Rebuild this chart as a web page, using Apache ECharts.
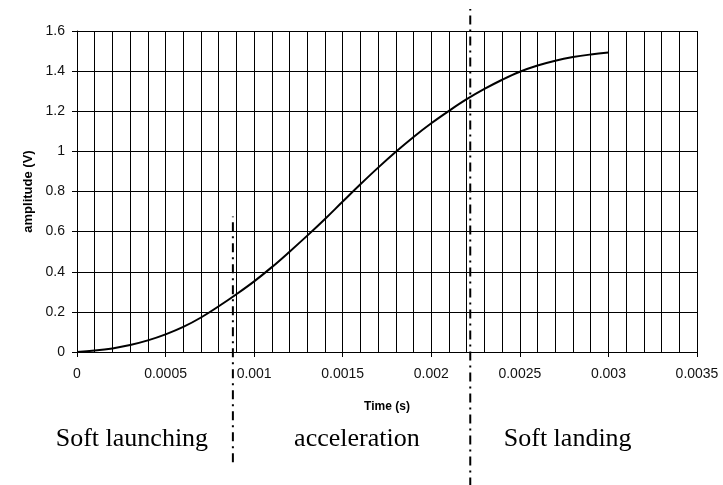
<!DOCTYPE html>
<html>
<head>
<meta charset="utf-8">
<script src="https://cdn.jsdelivr.net/npm/echarts@6/dist/echarts.min.js"></script>
<style>
html,body{margin:0;padding:0;background:#fff;}
#c{width:723px;height:485px;}
</style>
</head>
<body>
<div id="c"></div>
<script>
// Time (s) sample points
var times = [0, 0.0001, 0.0002, 0.0003, 0.0004, 0.0005, 0.0006, 0.0007, 0.0008, 0.0009,
  0.001, 0.0011, 0.0012, 0.0013, 0.0014, 0.0015, 0.0016, 0.0017, 0.0018, 0.0019,
  0.002, 0.0021, 0.0022, 0.0023, 0.0024, 0.0025, 0.0026, 0.0027, 0.0028, 0.0029, 0.003];
// amplitude (V)
var amplitude = [0, 0.007, 0.018, 0.035, 0.058, 0.088, 0.125, 0.172, 0.228, 0.288,
  0.352, 0.423, 0.50, 0.58, 0.663, 0.75, 0.836, 0.919, 0.998, 1.072,
  1.14, 1.202, 1.26, 1.311, 1.357, 1.397, 1.428, 1.452, 1.47, 1.483, 1.493];
// Phase boundaries (time) and the vertical extent of their dash-dot markers (amplitude units)
var boundaryTimes = [0.00088, 0.00222];
var boundaryLow = [-0.55, -0.67];
var boundaryHigh = [0.675, 1.71];
var phaseLabels = ['Soft launching', 'acceleration', 'Soft landing'];
var phaseCenters = [0.00031, 0.00158, 0.00277];

var chart = echarts.init(document.getElementById('c'));

var series = [{
  type: 'line',
  data: times.map(function (t, i) { return [t, amplitude[i]]; }),
  smooth: 0.4,
  symbol: 'none',
  lineStyle: { color: '#000', width: 2 },
  z: 5
}];
boundaryTimes.forEach(function (t, i) {
  series.push({
    type: 'line',
    data: [[t, boundaryLow[i]], [t, boundaryHigh[i]]],
    symbol: 'none',
    clip: false,
    silent: true,
    lineStyle: { color: '#000', width: 2, type: [9, 5, 2, 5] },
    z: 6
  });
});

var option = {
  animation: false,
  backgroundColor: '#fff',
  grid: { left: 77, right: 26, top: 31, bottom: 133, containLabel: false },
  xAxis: {
    type: 'value',
    min: 0, max: 0.0035, interval: 0.0005,
    name: 'Time (s)',
    nameLocation: 'middle',
    nameGap: 49,
    nameTextStyle: { fontFamily: 'Liberation Sans', fontWeight: 'bold', fontSize: 12, color: '#000' },
    axisLine: { show: true, lineStyle: { color: '#000', width: 1 } },
    axisTick: { show: true, length: 5, lineStyle: { color: '#000' } },
    axisLabel: { fontFamily: 'Liberation Sans', fontSize: 14, color: '#111', margin: 15 },
    splitLine: { show: true, lineStyle: { color: '#000', width: 1 } },
    minorTick: { show: false, splitNumber: 5 },
    minorSplitLine: { show: true, lineStyle: { color: '#000', width: 1 } }
  },
  yAxis: {
    type: 'value',
    min: 0, max: 1.6, interval: 0.2,
    name: 'amplitude (V)',
    nameLocation: 'middle',
    nameGap: 40,
    nameRotate: 90,
    nameTextStyle: { fontFamily: 'Liberation Sans', fontWeight: 'bold', fontSize: 13, color: '#000' },
    axisLine: { show: true, lineStyle: { color: '#000', width: 1 } },
    axisTick: { show: true, length: 5, lineStyle: { color: '#000' } },
    axisLabel: { fontFamily: 'Liberation Sans', fontSize: 14, color: '#111', margin: 12 },
    splitLine: { show: true, lineStyle: { color: '#000', width: 1 } }
  },
  series: series
};
chart.setOption(option);

// Phase labels placed at data x positions below the axis
var g = phaseLabels.map(function (lab, i) {
  var p = chart.convertToPixel({ gridIndex: 0 }, [phaseCenters[i], 0]);
  return {
    type: 'text',
    x: p[0], y: 439,
    style: { text: lab, fill: '#000', font: '26px "Liberation Serif"', textAlign: 'center', textVerticalAlign: 'middle' }
  };
});
chart.setOption({ graphic: g });
</script>
</body>
</html>
